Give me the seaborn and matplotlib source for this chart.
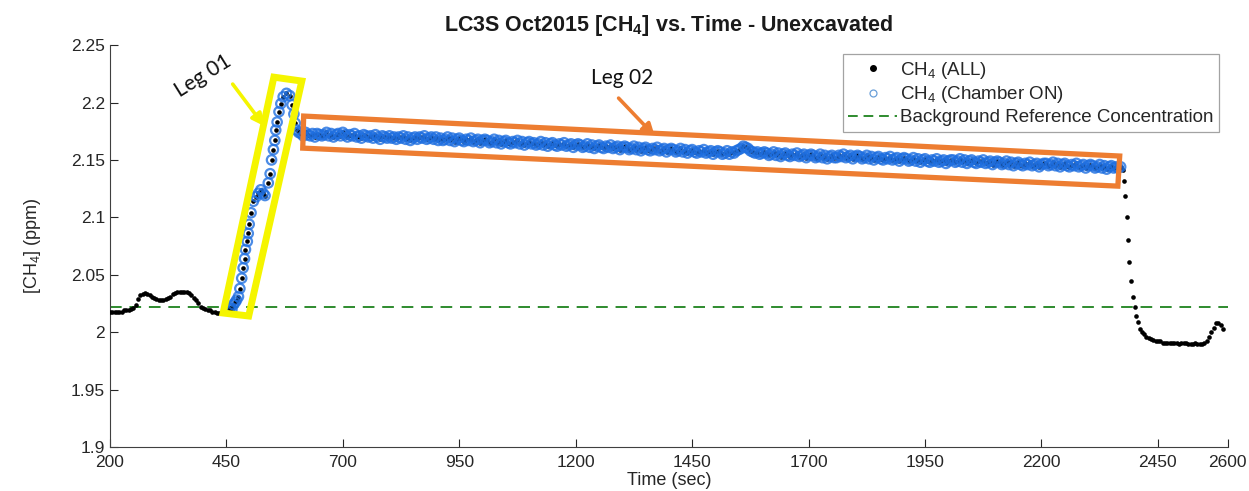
import numpy as np
import pandas as pd
import matplotlib
matplotlib.use("Agg")
import matplotlib.pyplot as plt
import seaborn as sns
from matplotlib import font_manager
from matplotlib.patches import Polygon, FancyArrowPatch
from matplotlib.lines import Line2D

# ---------------- data ----------------
t_pre = list(range(200, 456, 5))
v_pre = [2.018, 2.018, 2.018, 2.018, 2.018, 2.018, 2.019, 2.019, 2.019, 2.020,
         2.021, 2.024, 2.029, 2.032, 2.033, 2.034, 2.033, 2.032, 2.031, 2.030,
         2.029, 2.028, 2.028, 2.028, 2.029, 2.030, 2.031, 2.033, 2.034, 2.035,
         2.035, 2.035, 2.035, 2.035, 2.034, 2.032, 2.030, 2.028, 2.025, 2.022,
         2.021, 2.020, 2.019, 2.019, 2.018, 2.018, 2.017, 2.017, 2.017, 2.017,
         2.018, 2.019]

t_rise = [458, 462, 465, 469, 472, 476, 479, 483, 486, 489,
          491, 495, 497, 499, 503, 508, 514, 519, 524, 529,
          533, 540, 544, 547, 551, 554, 556, 559, 563, 567,
          572, 579, 586, 591, 595, 598, 601, 605]
v_rise = [2.021, 2.020, 2.024, 2.026, 2.028, 2.031, 2.038, 2.047, 2.056, 2.064,
          2.072, 2.079, 2.086, 2.094, 2.104, 2.114, 2.118, 2.121, 2.124, 2.121,
          2.119, 2.130, 2.138, 2.150, 2.159, 2.167, 2.176, 2.183, 2.192, 2.199,
          2.205, 2.208, 2.206, 2.198, 2.190, 2.182, 2.176, 2.174]

t_leg2 = list(range(610, 2371, 5))
v_leg2 = [2.173, 2.171, 2.174, 2.172, 2.171, 2.173, 2.170, 2.173, 2.172, 2.171,
          2.172, 2.174, 2.171, 2.173, 2.170, 2.172, 2.173, 2.171, 2.174, 2.172,
          2.170, 2.172, 2.171, 2.173, 2.170, 2.171, 2.169, 2.172, 2.171, 2.170,
          2.171, 2.169, 2.172, 2.170, 2.168, 2.171, 2.170, 2.169, 2.171, 2.169,
          2.170, 2.168, 2.170, 2.169, 2.171, 2.168, 2.170, 2.167, 2.169, 2.170,
          2.168, 2.170, 2.169, 2.171, 2.168, 2.169, 2.170, 2.168, 2.170, 2.167,
          2.169, 2.167, 2.168, 2.170, 2.167, 2.169, 2.166, 2.168, 2.169, 2.167,
          2.166, 2.168, 2.167, 2.169, 2.166, 2.167, 2.168, 2.165, 2.167, 2.168,
          2.167, 2.165, 2.166, 2.168, 2.165, 2.167, 2.164, 2.166, 2.167, 2.165,
          2.164, 2.166, 2.165, 2.167, 2.164, 2.166, 2.163, 2.165, 2.166, 2.164,
          2.165, 2.163, 2.164, 2.166, 2.163, 2.165, 2.162, 2.164, 2.165, 2.163,
          2.162, 2.164, 2.163, 2.165, 2.162, 2.163, 2.164, 2.161, 2.163, 2.164,
          2.163, 2.161, 2.162, 2.164, 2.161, 2.163, 2.160, 2.162, 2.163, 2.161,
          2.160, 2.162, 2.161, 2.163, 2.160, 2.161, 2.162, 2.159, 2.161, 2.162,
          2.161, 2.159, 2.160, 2.162, 2.159, 2.161, 2.158, 2.160, 2.161, 2.159,
          2.158, 2.160, 2.159, 2.161, 2.158, 2.159, 2.160, 2.157, 2.159, 2.160,
          2.159, 2.157, 2.158, 2.160, 2.157, 2.159, 2.156, 2.158, 2.159, 2.157,
          2.156, 2.158, 2.157, 2.159, 2.156, 2.157, 2.158, 2.155, 2.157, 2.158,
          2.157, 2.155, 2.156, 2.158, 2.155, 2.157, 2.156, 2.158, 2.159, 2.160,
          2.162, 2.161, 2.160, 2.158, 2.157, 2.156, 2.157, 2.155, 2.156, 2.157,
          2.156, 2.154, 2.155, 2.157, 2.154, 2.156, 2.153, 2.155, 2.156, 2.154,
          2.153, 2.155, 2.154, 2.156, 2.153, 2.154, 2.155, 2.152, 2.154, 2.155,
          2.154, 2.152, 2.153, 2.155, 2.152, 2.154, 2.151, 2.153, 2.154, 2.152,
          2.152, 2.154, 2.153, 2.155, 2.152, 2.153, 2.154, 2.151, 2.153, 2.154,
          2.153, 2.151, 2.152, 2.154, 2.151, 2.153, 2.150, 2.152, 2.153, 2.151,
          2.150, 2.152, 2.151, 2.153, 2.150, 2.151, 2.152, 2.149, 2.151, 2.152,
          2.151, 2.149, 2.150, 2.152, 2.149, 2.151, 2.148, 2.150, 2.151, 2.149,
          2.148, 2.150, 2.149, 2.151, 2.148, 2.149, 2.150, 2.147, 2.149, 2.150,
          2.150, 2.148, 2.149, 2.151, 2.148, 2.150, 2.147, 2.149, 2.150, 2.148,
          2.147, 2.149, 2.148, 2.150, 2.147, 2.148, 2.149, 2.146, 2.148, 2.149,
          2.148, 2.146, 2.147, 2.149, 2.146, 2.148, 2.145, 2.147, 2.148, 2.146,
          2.145, 2.147, 2.146, 2.148, 2.145, 2.146, 2.147, 2.144, 2.146, 2.147,
          2.147, 2.145, 2.146, 2.148, 2.145, 2.147, 2.144, 2.146, 2.147, 2.145,
          2.144, 2.146, 2.145, 2.147, 2.144, 2.145, 2.146, 2.143, 2.145, 2.146,
          2.145, 2.143, 2.144, 2.146, 2.143, 2.145, 2.142, 2.144, 2.145, 2.143,
          2.144, 2.143, 2.144]

t_post = [2374, 2377, 2380, 2383, 2386, 2389, 2393, 2396, 2400, 2404, 2408, 2411,
          2415, 2420, 2425, 2430, 2435, 2440, 2445, 2450, 2455, 2460,
          2465, 2470, 2475, 2480, 2485, 2490, 2495, 2500, 2505, 2510,
          2515, 2520, 2525, 2530, 2535, 2540, 2545, 2550, 2555, 2560,
          2565, 2570, 2575, 2580, 2585, 2590]
v_post = [2.141, 2.132, 2.119, 2.100, 2.080, 2.061, 2.045, 2.031, 2.022, 2.014, 2.009, 2.003,
          2.000, 1.998, 1.996, 1.995, 1.994, 1.993, 1.992, 1.992, 1.992, 1.991,
          1.991, 1.991, 1.991, 1.991, 1.991, 1.991, 1.990, 1.991, 1.991, 1.991,
          1.990, 1.990, 1.990, 1.991, 1.990, 1.990, 1.990, 1.991, 1.992, 1.996,
          2.000, 2.004, 2.008, 2.008, 2.006, 2.003]

background_ref = 2.022

x_ticks = [200, 450, 700, 950, 1200, 1450, 1700, 1950, 2200, 2450, 2600]
y_ticks = [1.9, 1.95, 2.0, 2.05, 2.1, 2.15, 2.2, 2.25]
y_tick_labels = ["1.9", "1.95", "2", "2.05", "2.1", "2.15", "2.2", "2.25"]

title_txt = r"LC3S Oct2015 [CH$_\mathbf{4}$] vs. Time - Unexcavated"
legend_labels = [r"CH$_4$ (ALL)", r"CH$_4$ (Chamber ON)", "Background Reference Concentration"]

# ---------------- styling ----------------
sns.set_style("white")
avail = {f.name for f in font_manager.fontManager.ttflist}
main_font = "Liberation Sans"
plt.rcParams['font.family'] = [main_font, 'DejaVu Sans']
plt.rcParams['mathtext.fontset'] = 'custom'
plt.rcParams['mathtext.rm'] = main_font
plt.rcParams['mathtext.it'] = main_font
plt.rcParams['mathtext.bf'] = main_font + ':bold'
hand_font = "Lato" if "Lato" in avail else "DejaVu Sans"

n = min(len(t_leg2), len(v_leg2))
t_leg2, v_leg2 = t_leg2[:n], v_leg2[:n]

df_all = pd.DataFrame({"t": t_pre + t_rise + t_leg2 + t_post,
                       "v": v_pre + v_rise + v_leg2 + v_post})
df_on = pd.DataFrame({"t": t_rise + t_leg2, "v": v_rise + v_leg2})

fig = plt.figure(figsize=(12.49, 4.91), dpi=100)
ax = fig.add_axes([0.088, 0.0896, 0.895, 0.8185])

blue = "#1f6fe0"
sns.scatterplot(data=df_all, x="t", y="v", ax=ax, color="black", s=11,
                linewidth=0, zorder=3, legend=False)
sns.scatterplot(data=df_on, x="t", y="v", ax=ax, s=46, marker="o",
                facecolors="none", edgecolor=blue, linewidth=1.6, alpha=0.8,
                zorder=4, legend=False)
ax.axhline(background_ref, color="#2e8b2e", lw=1.4, ls=(0, (6, 4)), zorder=2)

ax.set_xlim(200, 2600)
ax.set_ylim(1.9, 2.25)
ax.set_xticks(x_ticks)
ax.set_xticklabels([str(x) for x in x_ticks])
ax.set_yticks(y_ticks)
ax.set_yticklabels(y_tick_labels)
ax.tick_params(direction="in", length=6, width=0.8, colors="#262626",
               labelsize=12.5, top=False, right=False, bottom=True, left=True)
ax.tick_params(axis="x", pad=6)
for s in ["top", "right"]:
    ax.spines[s].set_visible(False)
for s in ["left", "bottom"]:
    ax.spines[s].set_color("#404040")
    ax.spines[s].set_linewidth(0.8)

ax.set_xlabel("Time (sec)", fontsize=13, labelpad=1, color="#262626")
ax.set_ylabel(r"[CH$_4$] (ppm)", fontsize=13, labelpad=20, color="#262626")
ax.set_title(title_txt, fontsize=15.5, fontweight="bold", pad=10, color="#1a1a1a")

# legend
handles = [Line2D([], [], ls="none", marker="o", ms=4, color="black"),
           Line2D([], [], ls="none", marker="o", ms=5, mfc="none", mec="#6a9fd8", mew=0.9),
           Line2D([], [], color="#2e8b2e", lw=1.4, ls=(0, (5, 3)))]
leg = ax.legend(handles, legend_labels, loc="upper right", bbox_to_anchor=(0.992, 0.978),
                borderaxespad=0, fontsize=13.5, frameon=True, fancybox=False,
                edgecolor="#8c8c8c", handlelength=2.6, handletextpad=0.15,
                labelspacing=0.2, borderpad=0.3)
leg.get_frame().set_linewidth(0.9)

# highlight boxes and arrows (hand annotations)
yellow_box = [(552, 2.2221), (612, 2.2187), (498, 2.0141), (443, 2.0167)]
orange_box = [(616, 2.1882), (2368, 2.1534), (2364, 2.1272), (614, 2.1603)]
ax.add_patch(Polygon(yellow_box, closed=True, fill=False, edgecolor="#f5f500",
                     lw=5, joinstyle="miter", zorder=5))
ax.add_patch(Polygon(orange_box, closed=True, fill=False, edgecolor="#ed7d31",
                     lw=3.8, joinstyle="miter", zorder=5))
ax.add_patch(FancyArrowPatch((460, 2.218), (535, 2.1775), arrowstyle="-|>",
                             mutation_scale=18, color="#f5f500", lw=2.6, zorder=6))
ax.add_patch(FancyArrowPatch((1288, 2.2056), (1374, 2.169), arrowstyle="-|>",
                             mutation_scale=18, color="#ed7d31", lw=2.6, zorder=6))
ax.text(400, 2.223, "Leg 01", rotation=32, ha="center", va="center",
        fontsize=15, family=hand_font, color="#111111", zorder=6)
ax.text(1299, 2.2213, "Leg 02", ha="center", va="center",
        fontsize=15, family=hand_font, color="#111111", zorder=6)

fig.savefig("out.png", dpi=100)
